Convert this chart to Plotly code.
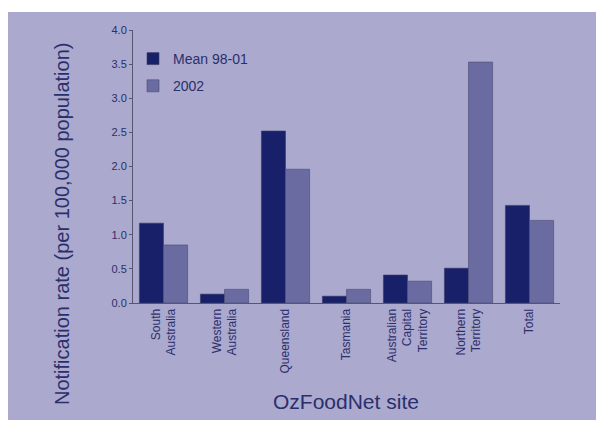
import plotly.graph_objects as go

categories = ["South<br>Australia", "Western<br>Australia", "Queensland", "Tasmania",
              "Australian<br>Capital<br>Territory", "Northern<br>Territory", "Total"]
mean_98_01 = [1.17, 0.13, 2.52, 0.10, 0.41, 0.51, 1.43]
rate_2002 = [0.85, 0.20, 1.96, 0.20, 0.32, 3.53, 1.21]
series_names = ["Mean 98-01", "2002"]
y_ticks = [0.0, 0.5, 1.0, 1.5, 2.0, 2.5, 3.0, 3.5, 4.0]

OFF = 8  # browser body margin
W, H = 604 - OFF, 430 - OFF
L, T = 133 - OFF, 30 - OFF
pw, ph = 427, 273
R, B = W - L - pw, H - T - ph

navy = "#18206a"
light = "#6a6ba0"
lav = "#aba9cd"
txt = "#2a2f6c"
FONT = "Liberation Sans, Arial"

fig = go.Figure()
fig.add_trace(go.Bar(x=categories, y=mean_98_01, name=series_names[0], legendgroup="a",
                     marker=dict(color=navy, line=dict(color="#3a3d66", width=0.6))))
fig.add_trace(go.Bar(x=categories, y=rate_2002, name=series_names[1], legendgroup="b",
                     marker=dict(color=light, line=dict(color="#4a4c76", width=0.6))))

def px_x(x):  # reference pixel -> paper
    return (x - OFF - L) / pw

def px_y(y):
    return (T + ph - (y - OFF)) / ph

fig.add_shape(type="rect", xref="paper", yref="paper",
              x0=px_x(4), x1=px_x(610), y0=px_y(420), y1=px_y(12),
              fillcolor=lav, line=dict(width=0), layer="below")

fig.add_annotation(text="Notification rate (per 100,000 population)", xref="paper", yref="paper",
                   x=px_x(62), y=px_y(224), xanchor="center", yanchor="middle",
                   textangle=-90, showarrow=False,
                   font=dict(family=FONT, size=20, color=txt))
fig.add_annotation(text="OzFoodNet site", xref="paper", yref="paper",
                   x=px_x(346), y=px_y(401), xanchor="center", yanchor="middle",
                   showarrow=False,
                   font=dict(family=FONT, size=21, color=txt))

fig.update_layout(
    width=W, height=H,
    margin=dict(l=L, r=R, t=T, b=B),
    paper_bgcolor="white",
    plot_bgcolor="white",
    barmode="group",
    bargap=0.21,
    bargroupgap=0,
    showlegend=True,
    legend=dict(x=0.0, y=px_y(43), xanchor="left", yanchor="top",
                bgcolor="rgba(0,0,0,0)", font=dict(family=FONT, size=14, color=txt),
                tracegroupgap=6),
    font=dict(family=FONT, color=txt),
)
fig.update_xaxes(showline=True, linecolor="#555770", linewidth=1, tickangle=-90,
                 tickfont=dict(family=FONT, size=12, color=txt), ticks="", showgrid=False)
fig.update_yaxes(range=[0, 4.0], tickvals=y_ticks, ticktext=[f"{v:.1f}" for v in y_ticks],
                 showline=True, linecolor="#555770", linewidth=1, ticks="outside", ticklen=3,
                 tickcolor="#555770", tickfont=dict(family=FONT, size=11, color=txt),
                 showgrid=False, zeroline=False)

fig.write_html("out.html")
